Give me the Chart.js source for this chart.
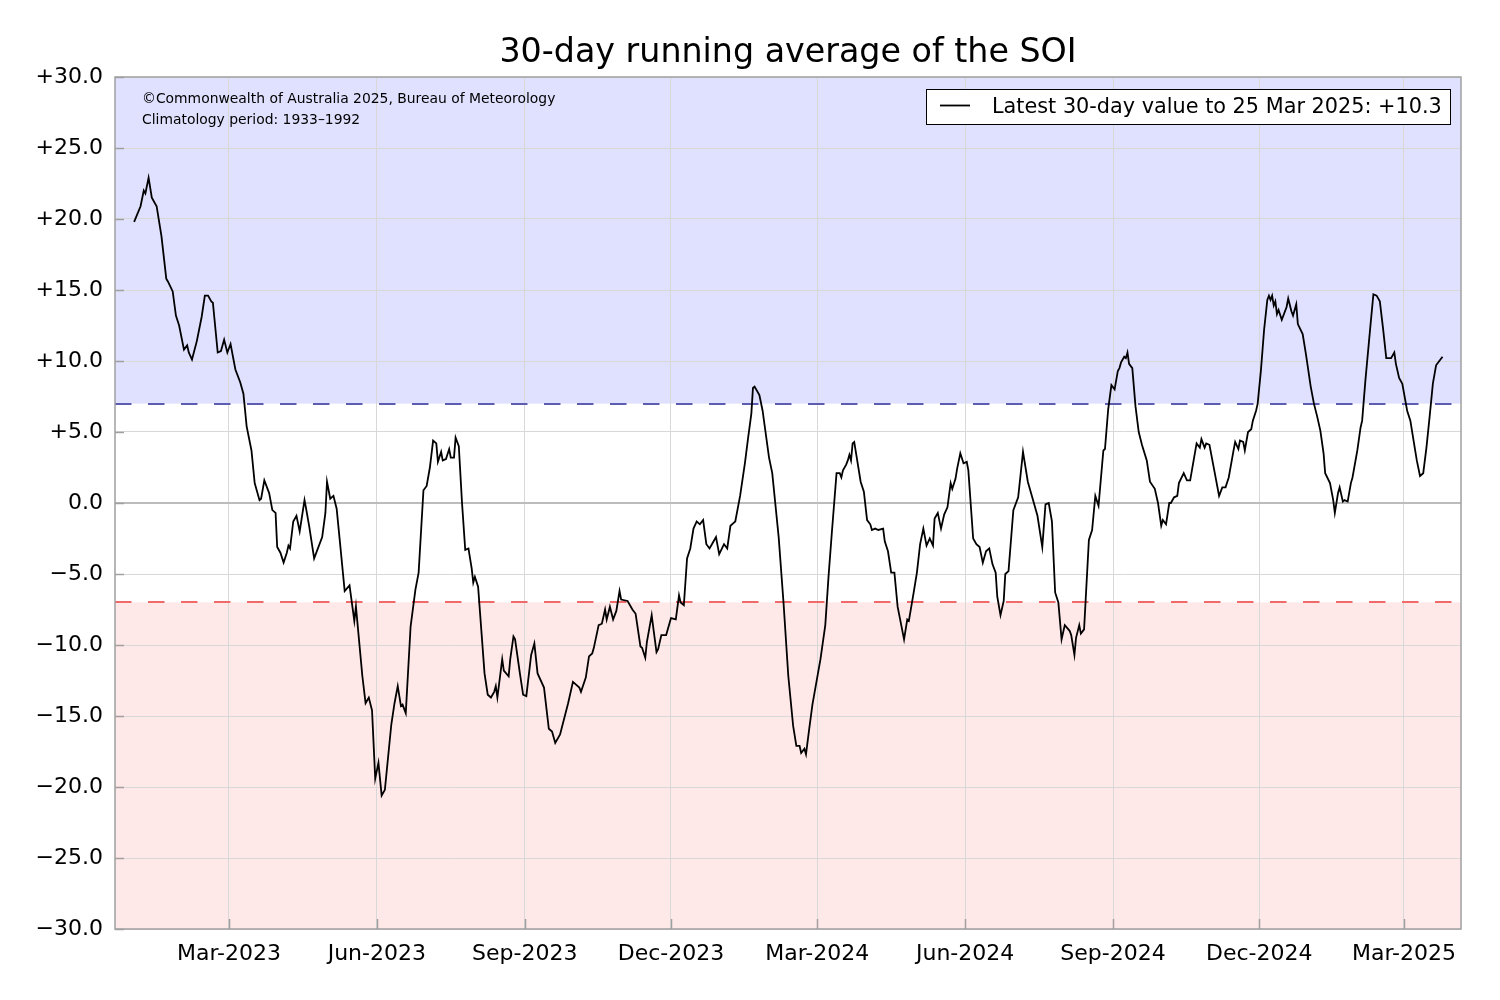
<!DOCTYPE html>
<html>
<head>
<meta charset="utf-8">
<title>30-day running average of the SOI</title>
<script src="https://cdn.jsdelivr.net/npm/chart.js@4.4.1/dist/chart.umd.min.js"></script>
<style>
  html, body { margin: 0; padding: 0; background: #fff; }
  #wrap { width: 1500px; height: 1000px; position: relative; }
</style>
</head>
<body>
<div id="wrap"><canvas id="soi-graph"></canvas></div>
<script>
// day of each reading, counted from 1 Jan 2023
const soiDays = [
    0, 4, 6, 7, 9, 11, 14, 17, 20, 21,
    24, 26, 28, 31, 33, 34, 36, 39, 42, 44,
    46, 48, 49, 52, 54, 56, 58, 60, 63, 66,
    68, 70, 73, 75, 78, 79, 81, 84, 86, 88,
    89, 91, 93, 95, 96, 97, 99, 101, 103, 106,
    107, 109, 112, 117, 119, 120, 122, 124, 126, 128,
    131, 134, 137, 138, 142, 144, 146, 148, 150, 152,
    154, 156, 160, 162, 164, 166, 167, 169, 172, 175,
    177, 180, 182, 184, 186, 188, 189, 191, 192, 194,
    196, 197, 199, 200, 202, 204, 206, 208, 210, 211,
    212, 214, 218, 220, 222, 224, 225, 226, 229, 230,
    233, 234, 236, 237, 240, 242, 244, 247, 248, 249,
    251, 255, 258, 260, 262, 265, 270, 273, 277, 278,
    281, 283, 285, 286, 289, 291, 293, 294, 296, 298,
    300, 302, 303, 307, 310, 312, 315, 316, 318, 319,
    322, 323, 325, 326, 328, 331, 334, 337, 339, 340,
    342, 344, 346, 348, 350, 352, 354, 356, 358, 360,
    362, 364, 367, 369, 371, 373, 374, 377, 380, 382,
    384, 385, 386, 389, 391, 395, 397, 401, 404, 407,
    410, 412, 414, 415, 417, 418, 420, 422, 427, 430,
    432, 434, 437, 439, 440, 441, 443, 444, 445, 446,
    447, 448, 452, 454, 456, 458, 459, 461, 463, 466,
    467, 469, 471, 473, 475, 479, 481, 482, 485, 487,
    489, 491, 493, 495, 497, 498, 500, 502, 504, 506,
    508, 509, 511, 512, 514, 516, 518, 519, 522, 524,
    526, 528, 530, 532, 534, 536, 537, 539, 541, 542,
    544, 547, 550, 553, 556, 558, 561, 562, 565, 567,
    569, 571, 573, 575, 577, 579, 582, 583, 585, 586,
    588, 589, 591, 592, 594, 596, 598, 600, 603, 604,
    606, 608, 610, 612, 613, 614, 616, 617, 618, 619,
    621, 623, 625, 627, 630, 632, 635, 637, 639, 640,
    642, 644, 645, 647, 649, 650, 653, 655, 657, 659,
    661, 663, 664, 666, 667, 669, 672, 675, 677, 679,
    681, 684, 685, 687, 688, 690, 691, 693, 695, 696,
    698, 699, 701, 703, 705, 706, 707, 708, 709, 710,
    711, 712, 714, 717, 718, 720, 721, 723, 724, 727,
    729, 732, 734, 736, 738, 740, 741, 744, 746, 747,
    749, 750, 752, 753, 755, 757, 758, 761, 763, 764,
    766, 769, 771, 773, 775, 777, 779, 782, 784, 785,
    787, 789, 792, 794, 796, 798, 800, 802, 804, 806,
    808, 810, 812, 814
];

const soiValues = [
    19.8, 20.9, 22.0, 21.8, 22.9, 21.5, 20.9, 18.8, 15.8, 15.6,
    14.9, 13.2, 12.5, 10.8, 11.1, 10.6, 10.1, 11.4, 13.1, 14.6,
    14.6, 14.2, 14.1, 10.6, 10.7, 11.5, 10.6, 11.2, 9.4, 8.5,
    7.7, 5.4, 3.7, 1.4, 0.2, 0.3, 1.6, 0.7, -0.5, -0.7,
    -3.1, -3.5, -4.2, -3.5, -3.0, -3.2, -1.3, -0.9, -2.0, 0.2,
    -0.4, -1.7, -3.9, -2.4, -0.7, 1.5, 0.3, 0.5, -0.4, -2.7,
    -6.2, -5.8, -8.3, -7.3, -12.2, -14.1, -13.7, -14.6, -19.4, -18.3,
    -20.6, -20.2, -15.6, -14.1, -12.9, -14.3, -14.2, -14.8, -8.7, -6.1,
    -4.9, 0.9, 1.2, 2.5, 4.4, 4.2, 2.9, 3.6, 3.0, 3.1,
    3.8, 3.2, 3.2, 4.6, 4.0, 0.0, -3.3, -3.2, -4.6, -5.6,
    -5.2, -5.9, -12.0, -13.5, -13.7, -13.3, -12.9, -13.7, -11.0, -11.8,
    -12.2, -11.0, -9.4, -9.6, -12.0, -13.5, -13.6, -10.7, -10.3, -9.9,
    -12.0, -13.0, -15.9, -16.1, -16.9, -16.3, -14.1, -12.6, -13.0, -13.3,
    -12.3, -10.8, -10.6, -10.2, -8.6, -8.5, -7.5, -8.2, -7.3, -8.2,
    -7.6, -6.2, -6.8, -6.9, -7.5, -7.8, -10.1, -10.2, -10.9, -9.8,
    -7.9, -8.8, -10.5, -10.3, -9.3, -9.3, -8.1, -8.2, -6.5, -7.0,
    -7.2, -3.9, -3.2, -1.8, -1.3, -1.5, -1.2, -2.9, -3.2, -2.8,
    -2.4, -3.6, -2.9, -3.2, -1.6, -1.4, -1.3, 0.5, 2.8, 4.6,
    6.3, 8.1, 8.2, 7.6, 6.5, 3.2, 2.1, -2.4, -7.0, -12.2,
    -15.7, -17.1, -17.1, -17.6, -17.3, -17.7, -15.9, -14.2, -11.0, -8.6,
    -5.2, -2.2, 2.1, 2.1, 1.8, 2.3, 2.7, 3.0, 3.4, 3.0,
    4.2, 4.3, 1.5, 0.8, -1.2, -1.5, -1.9, -1.8, -1.9, -1.8,
    -2.7, -3.4, -4.9, -4.9, -7.3, -9.6, -8.2, -8.3, -6.3, -4.9,
    -2.9, -1.8, -3.0, -2.5, -3.0, -1.1, -0.7, -1.8, -0.8, -0.3,
    1.4, 1.0, 1.7, 2.4, 3.5, 2.8, 2.9, 2.3, -2.5, -2.9,
    -3.1, -4.2, -3.4, -3.2, -4.3, -4.9, -6.6, -7.9, -6.9, -5.0,
    -4.8, -0.5, 0.4, 3.6, 1.5, 0.7, -0.5, -0.9, -3.1, -0.1,
    0.0, -1.3, -6.3, -7.0, -9.6, -8.6, -9.0, -9.3, -10.7, -9.5,
    -8.6, -9.2, -8.9, -6.8, -2.6, -1.9, 0.5, -0.2, 3.7, 3.8,
    6.6, 8.3, 8.0, 9.3, 9.5, 9.9, 10.3, 10.2, 10.6, 9.8,
    9.5, 6.8, 5.0, 4.1, 3.0, 1.5, 1.0, 0.0, -1.6, -1.2,
    -1.5, 0.0, 0.0, 0.4, 0.5, 1.4, 2.1, 1.6, 1.6, 2.9,
    4.2, 3.9, 4.5, 3.9, 4.2, 4.1, 2.3, 0.5, 1.1, 1.1,
    1.8, 3.7, 4.3, 3.8, 4.4, 4.3, 3.7, 5.0, 5.2, 5.8,
    6.5, 7.0, 9.3, 12.2, 14.3, 14.6, 14.3, 14.6, 13.9, 14.2,
    13.3, 13.6, 12.9, 13.8, 14.4, 13.5, 13.2, 14.0, 12.6, 11.9,
    10.5, 8.2, 7.0, 6.1, 5.1, 3.5, 2.1, 1.4, 0.2, -0.7,
    0.7, 1.1, 0.1, 0.2, 0.1, 1.4, 1.8, 3.7, 5.3, 5.8,
    8.6, 12.3, 14.7, 14.6, 14.2, 12.3, 10.2, 10.2, 10.6, 9.8,
    8.8, 8.4, 6.5, 5.8, 4.4, 3.0, 1.9, 2.1, 3.9, 6.1,
    8.4, 9.7, 10.0, 10.3
];

const tickDates = ['2023-03-01', '2023-06-01', '2023-09-01', '2023-12-01', '2024-03-01',
                   '2024-06-01', '2024-09-01', '2024-12-01', '2025-03-01'];
const tickLabels = ['Mar-2023', 'Jun-2023', 'Sep-2023', 'Dec-2023', 'Mar-2024',
                    'Jun-2024', 'Sep-2024', 'Dec-2024', 'Mar-2025'];
// x range in days from 1 Jan 2023 (about 20 Dec 2022 to 5 Apr 2025)
const axisStartDay = -11.9;
const axisEndDay = 825.5;
const thresholds = [7, -7];

const chartTitle = '30-day running average of the SOI';
const creditLines = ['\u00A9Commonwealth of Australia 2025, Bureau of Meteorology',
                     'Climatology period: 1933\u20131992'];
const latestLabel = 'Latest 30-day value to 25 Mar 2025: +10.3';

const dayZero = Date.UTC(2023, 0, 1);
function dayNumber(iso) {
    return Math.round((Date.parse(iso + 'T00:00:00Z') - dayZero) / 86400000);
}
const tickDays = tickDates.map(dayNumber);

function soiLabel(v) {
    if (v > 0) return '+' + v.toFixed(1);
    if (v < 0) return '\u2212' + Math.abs(v).toFixed(1);
    return '0.0';
}

const FONT = 'DejaVu Sans';
const frameColor = '#a0a0a0';

const soiDecor = {
    id: 'soiDecor',
    beforeDraw(chart) {
        const { ctx, chartArea: a, scales: { y } } = chart;
        const yUp = y.getPixelForValue(thresholds[0]);
        const yDown = y.getPixelForValue(thresholds[1]);
        ctx.save();
        ctx.fillStyle = '#ffffff';
        ctx.fillRect(0, 0, chart.width, chart.height);
        ctx.fillStyle = '#e0e0ff';
        ctx.fillRect(a.left, a.top, a.width, yUp - a.top);
        ctx.fillStyle = '#ffe8e8';
        ctx.fillRect(a.left, yDown, a.width, a.bottom - yDown);
        ctx.restore();
    },
    beforeDatasetsDraw(chart) {
        const { ctx, chartArea: a, scales: { y } } = chart;
        const colors = ['#5c5cb0', '#f06a6a'];
        ctx.save();
        ctx.lineWidth = 2;
        ctx.setLineDash([16.5, 16.5]);
        thresholds.forEach((t, i) => {
            const py = Math.round(y.getPixelForValue(t));
            ctx.strokeStyle = colors[i];
            ctx.beginPath();
            ctx.moveTo(a.left, py);
            ctx.lineTo(a.right, py);
            ctx.stroke();
        });
        ctx.restore();
    },
    afterDraw(chart) {
        const { ctx, chartArea: a, scales: { x, y } } = chart;
        ctx.save();

        // frame
        ctx.strokeStyle = frameColor;
        ctx.lineWidth = 1.5;
        ctx.strokeRect(a.left, a.top, a.width, a.height);

        // inward tick marks, left and bottom only
        ctx.lineWidth = 1.5;
        x.ticks.forEach(t => {
            const px = Math.round(x.getPixelForValue(t.value)) + 0.5;
            ctx.beginPath();
            ctx.moveTo(px, a.bottom);
            ctx.lineTo(px, a.bottom - 10);
            ctx.stroke();
        });
        y.ticks.forEach(t => {
            const py = Math.round(y.getPixelForValue(t.value)) + 0.5;
            ctx.beginPath();
            ctx.moveTo(a.left, py);
            ctx.lineTo(a.left + 9, py);
            ctx.stroke();
        });

        // title
        ctx.fillStyle = '#000';
        ctx.textAlign = 'center';
        ctx.textBaseline = 'alphabetic';
        ctx.font = '33.3px "' + FONT + '"';
        ctx.fillText(chartTitle, (a.left + a.right) / 2, 62);

        // credits
        ctx.textAlign = 'left';
        ctx.font = '13.9px "' + FONT + '"';
        ctx.fillText(creditLines[0], a.left + 27, 103);
        ctx.fillText(creditLines[1], a.left + 27, 124);

        // legend box
        const boxL = 926, boxT = 89, boxR = a.right - 11, boxB = 124;
        ctx.fillStyle = '#ffffff';
        ctx.fillRect(boxL, boxT, boxR - boxL, boxB - boxT);
        ctx.strokeStyle = '#000';
        ctx.lineWidth = 1;
        ctx.strokeRect(boxL + 0.5, boxT + 0.5, boxR - boxL, boxB - boxT);
        ctx.lineWidth = 1.8;
        ctx.beginPath();
        ctx.moveTo(boxL + 14, 105.5);
        ctx.lineTo(boxL + 44, 105.5);
        ctx.stroke();
        ctx.fillStyle = '#000';
        ctx.font = '20.8px "' + FONT + '"';
        ctx.fillText(latestLabel, boxL + 66, 113);

        ctx.restore();
    }
};

const ctx = document.getElementById('soi-graph').getContext('2d');

new Chart(ctx, {
    type: 'line',
    data: {
        datasets: [{
            label: latestLabel,
            data: soiDays.map((d, i) => ({ x: d, y: soiValues[i] })),
            borderColor: '#000000',
            borderWidth: 1.8,
            pointRadius: 0,
            tension: 0,
            fill: false
        }]
    },
    options: {
        responsive: true,
        maintainAspectRatio: false,
        animation: false,
        devicePixelRatio: 1,
        layout: { padding: { top: 77, right: 39, left: 0, bottom: 0 } },
        scales: {
            x: {
                type: 'linear',
                min: axisStartDay,
                max: axisEndDay,
                afterBuildTicks: scale => {
                    scale.ticks = tickDays.map(v => ({ value: v }));
                },
                afterFit: scale => { scale.height = 71; },
                ticks: {
                    autoSkip: false,
                    maxRotation: 0,
                    padding: 12,
                    color: '#000',
                    font: { family: FONT, size: 22 },
                    callback: (value, index) => tickLabels[index]
                },
                grid: { color: '#d8d8d8', lineWidth: 1, drawTicks: false },
                border: { display: false }
            },
            y: {
                min: -30,
                max: 30,
                afterFit: scale => { scale.width = 115; },
                ticks: {
                    stepSize: 5,
                    padding: 12,
                    color: '#000',
                    font: { family: FONT, size: 22 },
                    callback: value => soiLabel(value)
                },
                grid: {
                    color: c => c.tick && c.tick.value === 0 ? '#bcbcbc' : '#d8d8d8',
                    lineWidth: c => c.tick && c.tick.value === 0 ? 2 : 1,
                    drawTicks: false
                },
                border: { display: false }
            }
        },
        plugins: {
            legend: { display: false },
            tooltip: { enabled: false },
            title: { display: false }
        }
    },
    plugins: [soiDecor]
});
</script>
</body>
</html>
